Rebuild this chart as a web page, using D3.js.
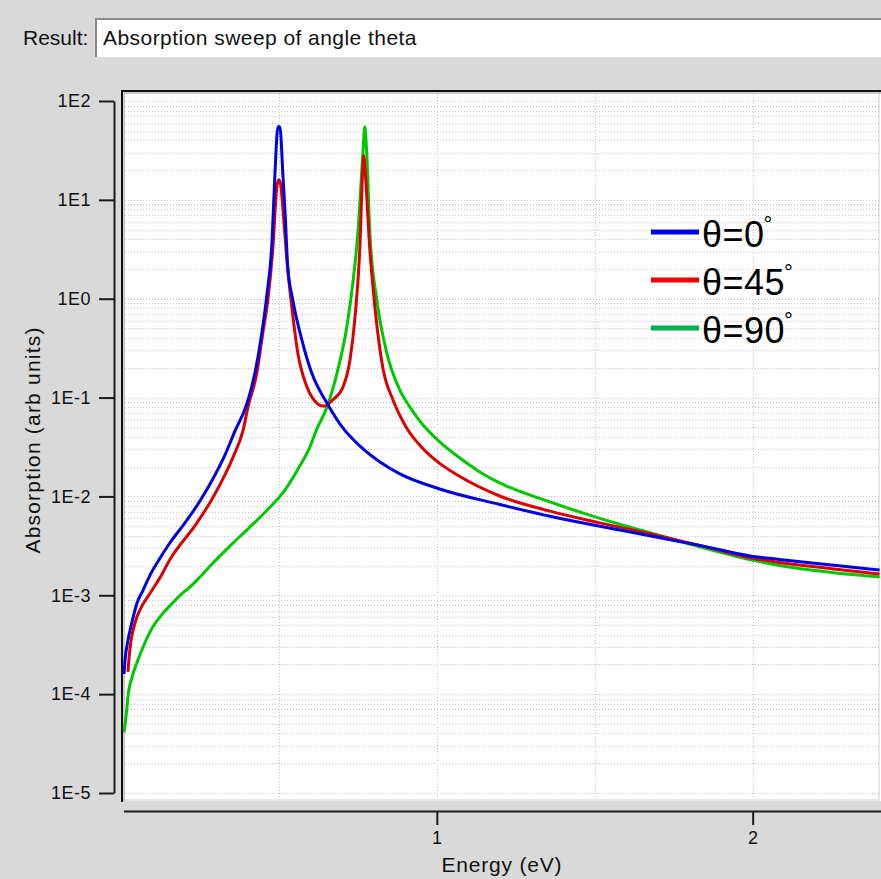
<!DOCTYPE html>
<html>
<head>
<meta charset="utf-8">
<script src="https://cdn.jsdelivr.net/npm/d3@7"></script>
<style>
  html, body { margin: 0; padding: 0; background: #d9d9d9; overflow: hidden; }
  #chart { width: 881px; height: 879px; }
</style>
</head>
<body>
<div id="chart"></div>
<script>
// [energy (eV), absorption (arb units)]
const theta0 = [
  [0.0095, 1.6e-4], [0.0127, 2.2e-4], [0.022, 3.5e-4], [0.035, 5.4e-4], [0.051, 8.4e-4],
  [0.070, 1.13e-3], [0.092, 1.6e-3], [0.117, 2.2e-3], [0.155, 3.4e-3], [0.2025, 5.4e-3],
  [0.250, 9.0e-3], [0.2975, 1.65e-2], [0.329, 2.62e-2], [0.361, 4.6e-2], [0.399, 8.7e-2],
  [0.424, 0.177], [0.446, 0.45], [0.462, 1.1], [0.478, 3.7], [0.487, 17], [0.497, 55],
  [0.503, 55], [0.513, 17], [0.519, 7.9], [0.528, 2.1], [0.544, 0.97], [0.573, 0.38],
  [0.604, 0.177], [0.652, 0.088], [0.703, 0.049], [0.756, 0.0324], [0.82, 0.0223],
  [0.883, 0.0169], [1.009, 0.0119], [1.199, 0.0083], [1.358, 0.0063], [1.516, 0.0050],
  [1.674, 0.0040], [1.832, 0.0032], [1.991, 0.0025], [2.085, 0.0023], [2.25, 0.00202],
  [2.402, 0.0018]
];

const theta45 = [
  [0.022, 1.68e-4], [0.028, 2.8e-4], [0.044, 5.2e-4], [0.060, 7.1e-4], [0.092, 1.05e-3],
  [0.123, 1.5e-3], [0.155, 2.3e-3], [0.2405, 5.4e-3], [0.2848, 9.0e-3], [0.329, 1.65e-2],
  [0.3576, 2.62e-2], [0.386, 4.6e-2], [0.402, 8.0e-2], [0.430, 0.177], [0.449, 0.45],
  [0.465, 0.97], [0.481, 3.3], [0.494, 14], [0.500, 16], [0.506, 14], [0.513, 7.9],
  [0.525, 2.5], [0.541, 0.82], [0.560, 0.28], [0.589, 0.128], [0.620, 0.088],
  [0.639, 0.082], [0.652, 0.084], [0.671, 0.095], [0.703, 0.128], [0.725, 0.24],
  [0.741, 0.65], [0.756, 3.1], [0.766, 22], [0.769, 28], [0.772, 22], [0.788, 3.1],
  [0.804, 0.82], [0.829, 0.20], [0.861, 0.095], [0.905, 0.049], [0.946, 0.033],
  [1.009, 0.0216], [1.073, 0.0159], [1.199, 0.0101], [1.358, 0.0071], [1.516, 0.0054],
  [1.674, 0.0042], [1.832, 0.0032], [1.991, 0.0024], [2.085, 0.00215], [2.25, 0.00186],
  [2.402, 0.00164]
];

const theta90 = [
  [0.0095, 4.1e-5], [0.019, 7.4e-5], [0.022, 9.4e-5], [0.035, 1.49e-4], [0.051, 2.1e-4],
  [0.070, 3.0e-4], [0.101, 4.8e-4], [0.133, 6.6e-4], [0.161, 8.2e-4], [0.187, 1.0e-3],
  [0.218, 1.21e-3], [0.25, 1.53e-3], [0.291, 2.12e-3], [0.345, 3.15e-3], [0.408, 4.9e-3],
  [0.472, 7.8e-3], [0.519, 1.16e-2], [0.566, 2.03e-2], [0.598, 3.16e-2], [0.620, 4.8e-2],
  [0.652, 8.0e-2], [0.684, 0.177], [0.715, 0.52], [0.734, 1.44], [0.750, 4.6], [0.766, 30],
  [0.772, 55], [0.778, 30], [0.788, 4.6], [0.810, 0.97], [0.842, 0.28], [0.883, 0.119],
  [0.915, 0.080], [0.946, 0.058], [1.009, 0.0356], [1.073, 0.0245], [1.136, 0.0177],
  [1.199, 0.0137], [1.358, 0.0088], [1.516, 0.0060], [1.674, 0.0043], [1.832, 0.0031],
  [1.991, 0.0023], [2.085, 0.0020], [2.25, 0.00170], [2.402, 0.00153]
];

const seriesNames = ['θ=0', 'θ=45', 'θ=90'];
const yTickValues = [1e-5, 1e-4, 1e-3, 1e-2, 1e-1, 1e0, 1e1, 1e2];
const yTickLabels = ['1E-5', '1E-4', '1E-3', '1E-2', '1E-1', '1E0', '1E1', '1E2'];
const xMajorTicks = [1, 2];
const xMinorTicks = [0.5, 1.5];
const xDomain = [0, 2.4];
const resultText = 'Absorption sweep of angle theta';

class SweepPlot {
  constructor(container, config) {
    this.container = container;

    let defaults = {
      width: 881,
      height: 879,
      bgColor: '#d9d9d9',
      fontFamily: "'Liberation Sans', Arial, Helvetica, sans-serif",
      fontColor: '#111',
      axisColor: '#1a1a1a',
      gridColor: '#c4c4c4',
      lineColors: ['#0000e6', '#dd0000', '#00c800'],
      legendColors: ['#0000e6', '#ee0000', '#00b050'],
      lineWidth: 3,
      plotLeft: 121,
      plotRight: 879,
      plotTop: 90,
      plotBottom: 801,
      yTop: 101,
      yBottom: 793,
      yAxisX: 114,
      xAxisY: 811
    };
    Object.assign(this, defaults, config);

    this.init();
  }

  init() {
    this.drawSvg();
    this.drawHeader();
    this.makeScales();
    this.drawFrame();
    this.drawGrid();
    this.drawLines();
    this.drawAxes();
    this.drawLegend();
  }

  drawSvg() {
    this.svg = d3.select(this.container)
      .append('svg')
      .attr('width', this.width)
      .attr('height', this.height)
      .attr('viewBox', `0 0 ${this.width} ${this.height}`)
      .style('font-family', this.fontFamily);

    this.svg.append('rect')
      .attr('width', this.width)
      .attr('height', this.height)
      .attr('fill', this.bgColor);
  }

  drawHeader() {
    let g = this.svg.append('g').attr('id', 'header');

    g.append('text')
      .attr('x', 23)
      .attr('y', 45)
      .attr('font-size', '21px')
      .attr('fill', this.fontColor)
      .text('Result:');

    // sunken text field
    g.append('rect')
      .attr('x', 95).attr('y', 18)
      .attr('width', 800).attr('height', 39)
      .attr('fill', '#fff');
    g.append('path')
      .attr('d', 'M96,57 V19 H900')
      .attr('fill', 'none')
      .attr('stroke', '#8a8a8a')
      .attr('stroke-width', 2);

    g.append('text')
      .attr('x', 103)
      .attr('y', 45)
      .attr('font-size', '21px')
      .attr('letter-spacing', '0.45px')
      .attr('fill', this.fontColor)
      .text(resultText);
  }

  makeScales() {
    this.x = d3.scaleLinear().domain(xDomain).range([this.plotLeft, this.plotRight]);
    this.y = d3.scaleLog().domain([1e-5, 1e2]).range([this.yBottom, this.yTop]);
  }

  drawFrame() {
    let g = this.svg.append('g').attr('id', 'frame');

    g.append('rect')
      .attr('x', this.plotLeft)
      .attr('y', this.plotTop)
      .attr('width', this.width - this.plotLeft + 10)
      .attr('height', this.plotBottom - this.plotTop)
      .attr('fill', '#fff');

    // light bottom / right edge
    g.append('path')
      .attr('d', `M${this.plotLeft},${this.plotBottom - 1} H${this.plotRight} V${this.plotTop}`)
      .attr('fill', 'none')
      .attr('stroke', '#e6e6e6')
      .attr('stroke-width', 2);

    // dark top / left edge
    g.append('path')
      .attr('d', `M${this.plotLeft + 1},${this.plotBottom + 1} V${this.plotTop + 1} H${this.width + 5}`)
      .attr('fill', 'none')
      .attr('stroke', '#111')
      .attr('stroke-width', 2);
    g.append('path')
      .attr('d', `M${this.plotLeft + 3},${this.plotBottom} V${this.plotTop + 3} H${this.width + 5}`)
      .attr('fill', 'none')
      .attr('stroke', '#9a9a9a')
      .attr('stroke-width', 1);
  }

  drawGrid() {
    let g = this.svg.append('g').attr('id', 'grid');
    let yGrid = this.y.ticks(80);
    let x0 = this.plotLeft + 4;
    let x1 = this.plotRight;

    g.selectAll('line.hgrid')
      .data(yGrid)
      .join('line')
      .attr('class', 'hgrid')
      .attr('x1', x0).attr('x2', x1)
      .attr('y1', d => Math.round(this.y(d)) + 0.5)
      .attr('y2', d => Math.round(this.y(d)) + 0.5)
      .attr('stroke', this.gridColor)
      .attr('stroke-dasharray', '1,2');

    g.selectAll('line.vgrid')
      .data(xMinorTicks.concat(xMajorTicks))
      .join('line')
      .attr('class', 'vgrid')
      .attr('x1', d => Math.round(this.x(d)) + 0.5)
      .attr('x2', d => Math.round(this.x(d)) + 0.5)
      .attr('y1', this.plotTop + 4).attr('y2', this.plotBottom - 2)
      .attr('stroke', this.gridColor)
      .attr('stroke-dasharray', '1,2');
  }

  drawLines() {
    this.svg.append('clipPath')
      .attr('id', 'plot-clip')
      .append('rect')
      .attr('x', this.plotLeft + 2)
      .attr('y', this.plotTop + 2)
      .attr('width', this.plotRight - this.plotLeft)
      .attr('height', this.plotBottom - this.plotTop - 3);

    let line = d3.line()
      .x(d => this.x(d[0]))
      .y(d => this.y(d[1]))
      .curve(d3.curveMonotoneX);

    let g = this.svg.append('g')
      .attr('id', 'lines')
      .attr('clip-path', 'url(#plot-clip)');

    // green under red under blue, as in the original
    let order = [2, 1, 0];
    let series = [theta0, theta45, theta90];
    order.forEach((i) => {
      g.append('path')
        .datum(series[i])
        .attr('d', line)
        .attr('fill', 'none')
        .attr('stroke', this.lineColors[i])
        .attr('stroke-width', this.lineWidth)
        .attr('stroke-linejoin', 'miter');
    });
  }

  drawAxes() {
    let yMinor = this.y.ticks(80).filter(v => !yTickValues.includes(v));

    let yMajorAxis = d3.axisLeft(this.y)
      .tickValues(yTickValues)
      .tickSize(15)
      .tickSizeOuter(0)
      .tickPadding(8)
      .tickFormat((d, i) => yTickLabels[i]);

    let yMinorAxis = d3.axisLeft(this.y)
      .tickValues(yMinor)
      .tickSize(10)
      .tickSizeOuter(0)
      .tickFormat('');

    let gy = this.svg.append('g')
      .attr('transform', `translate(${this.yAxisX},0)`);
    gy.call(yMinorAxis);
    gy.call(yMajorAxis);

    let xMajorAxis = d3.axisBottom(this.x)
      .tickValues(xMajorTicks)
      .tickSize(14)
      .tickSizeOuter(0)
      .tickPadding(6)
      .tickFormat(d3.format('d'));

    let xMinorAxis = d3.axisBottom(this.x)
      .tickValues(xMinorTicks)
      .tickSize(9)
      .tickSizeOuter(0)
      .tickFormat('');

    let gx = this.svg.append('g')
      .attr('transform', `translate(0,${this.xAxisY})`);
    gx.call(xMinorAxis);
    gx.call(xMajorAxis);

    [gx, gy].forEach((g) => {
      g.selectAll('path.domain').attr('stroke', this.axisColor).attr('stroke-width', 2);
      g.selectAll('.tick line').attr('stroke', this.axisColor).attr('stroke-width', 2);
      g.selectAll('.tick text')
        .attr('fill', this.fontColor)
        .attr('font-family', this.fontFamily)
        .attr('font-size', '18px')
        .attr('letter-spacing', '0.5px');
    });

    gx.select('path.domain').attr('d', `M${this.plotLeft + 3},0.5H${this.width + 5}`);

    this.svg.append('text')
      .attr('x', (this.plotLeft + this.plotRight) / 2 + 2)
      .attr('y', 872)
      .attr('text-anchor', 'middle')
      .attr('font-size', '21px')
      .attr('letter-spacing', '0.8px')
      .attr('fill', this.fontColor)
      .text('Energy (eV)');

    this.svg.append('text')
      .attr('transform', `translate(40,440) rotate(-90)`)
      .attr('text-anchor', 'middle')
      .attr('font-size', '21px')
      .attr('letter-spacing', '1.2px')
      .attr('fill', this.fontColor)
      .text('Absorption (arb units)');
  }

  drawLegend() {
    let g = this.svg.append('g').attr('id', 'legend');
    let rows = g.selectAll('g.row')
      .data(seriesNames)
      .join('g')
      .attr('class', 'row')
      .attr('transform', (d, i) => `translate(651,${232 + i * 48})`);

    rows.append('line')
      .attr('x1', 0).attr('x2', 48)
      .attr('y1', 0).attr('y2', 0)
      .attr('stroke', (d, i) => this.legendColors[i])
      .attr('stroke-width', 5);

    let label = rows.append('text')
      .attr('x', 51)
      .attr('y', 15)
      .attr('font-size', '36px')
      .attr('letter-spacing', '0.5px')
      .attr('fill', '#000');
    label.append('tspan').text(d => d);
    label.append('tspan')
      .attr('font-size', '22px')
      .attr('dx', -1)
      .attr('dy', -15)
      .text('°');
  }
}

const chart = new SweepPlot(document.getElementById('chart'));
</script>
</body>
</html>
